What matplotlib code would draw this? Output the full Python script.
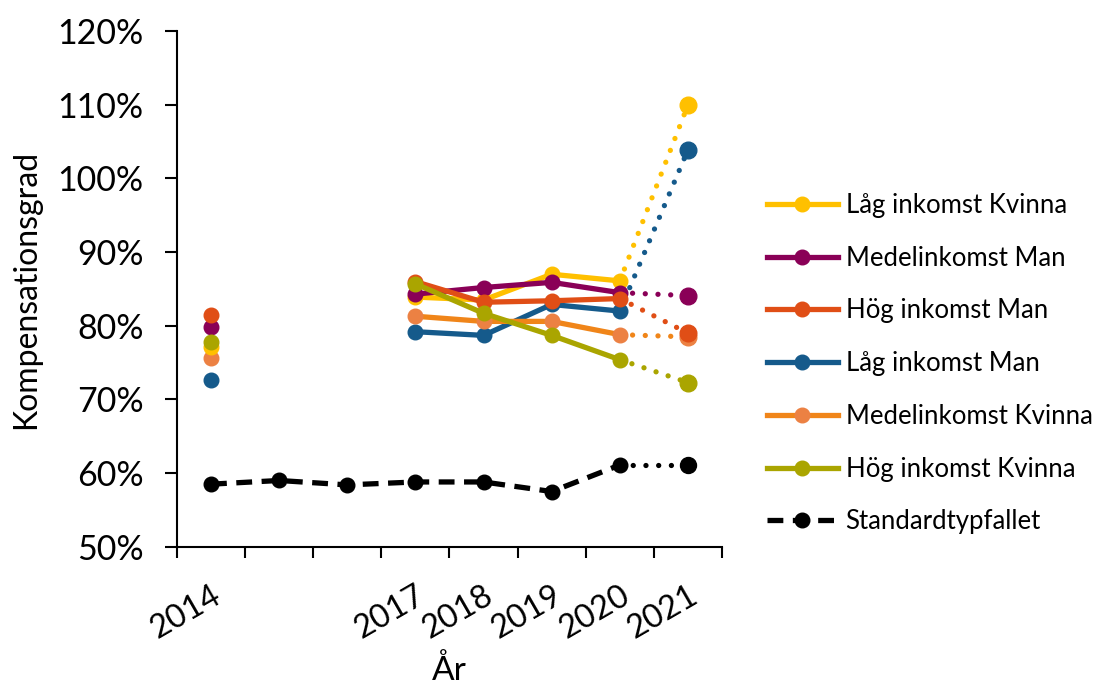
import numpy as np
import matplotlib
matplotlib.use("Agg")
import matplotlib.pyplot as plt
from matplotlib.lines import Line2D
from matplotlib.ticker import FixedLocator, FuncFormatter

plt.rcParams['font.family'] = ['Lato', 'DejaVu Sans']

years = [2014, 2015, 2016, 2017, 2018, 2019, 2020, 2021]
year_labels = ['2014', '', '', '2017', '2018', '2019', '2020', '2021']
nan = np.nan

series_names = ['Låg inkomst Kvinna', 'Medelinkomst Man', 'Hög inkomst Man',
                'Låg inkomst Man', 'Medelinkomst Kvinna', 'Hög inkomst Kvinna']
lag_kvinna = [77.1, nan, nan, 83.9, 83.5, 87.0, 86.1, 110.0]
medel_man = [79.8, nan, nan, 84.3, 85.2, 85.9, 84.5, 84.1]
hog_man = [81.5, nan, nan, 86.0, 83.2, 83.4, 83.7, 79.0]
lag_man = [72.7, nan, nan, 79.2, 78.7, 82.9, 82.0, 103.9]
medel_kvinna = [75.6, nan, nan, 81.3, 80.6, 80.6, 78.8, 78.5]
hog_kvinna = [77.8, nan, nan, 85.7, 81.7, 78.7, 75.4, 72.3]
standard = [58.5, 59.0, 58.4, 58.8, 58.8, 57.5, 61.1, 61.1]

values = [lag_kvinna, medel_man, hog_man, lag_man, medel_kvinna, hog_kvinna]
line_colors = ['#FFC000', '#8A0057', '#E04E16', '#155A8B', '#F08519', '#AAA500']
marker_colors = ['#FFC000', '#8A0057', '#E04E16', '#155A8B', '#EC8143', '#AAA500']
# draw order: back to front
order = [3, 4, 0, 1, 2, 5]

fig = plt.figure(figsize=(10.99, 6.93), dpi=100)
ax = fig.add_axes([0.161, 0.211, 0.496, 0.744])

x = np.arange(len(years))
lw = 3.8
ms = 10.5
dot = (0, (0.01, 2.4))

for i in order:
    v = np.array(values[i], dtype=float)
    solid = v.copy()
    solid[-1] = nan
    # dotted final segment
    ax.plot(x[-2:], v[-2:], linestyle=dot, dash_capstyle='round', color=line_colors[i],
            lw=lw, zorder=2)
    ax.plot(x, solid, '-', color=line_colors[i], lw=lw, solid_capstyle='round', zorder=3,
            marker='o', ms=ms, mfc=marker_colors[i], mec=marker_colors[i])
    ax.plot(x[-1:], v[-1:], 'o', color=marker_colors[i], ms=ms + 1.5, zorder=3)

s = np.array(standard, dtype=float)
s_main = s.copy()
s_main[-1] = nan
ax.plot(x[-2:], s[-2:], linestyle=dot, dash_capstyle='round', color='black', lw=lw, zorder=2)
ax.plot(x, s_main, color='black', lw=lw, linestyle=(0, (3.0, 1.8)), zorder=3,
        marker='o', ms=ms, mfc='black', mec='black')
ax.plot(x[-1:], s[-1:], 'o', color='black', ms=ms + 1, zorder=3)

ax.set_xlim(-0.5, len(years) - 0.5)
ax.set_ylim(50, 120)
ax.set_yticks(np.arange(50, 121, 10))
ax.yaxis.set_major_formatter(FuncFormatter(lambda v, p: f'{v:.0f}%'))

ax.xaxis.set_major_locator(FixedLocator(np.arange(-0.5, len(years), 1.0)))
ax.xaxis.set_minor_locator(FixedLocator(x))
ax.set_xticklabels([], minor=False)
ax.set_xticklabels(year_labels, minor=True, rotation=30, ha='right', rotation_mode='anchor')
ax.tick_params(axis='x', which='major', length=8, width=1.5, direction='out')
ax.tick_params(axis='x', which='minor', length=0, labelsize=23.5, pad=24)
ax.tick_params(axis='y', length=9, width=1.5, direction='out', labelsize=24.5, pad=15)

for sp in ['top', 'right']:
    ax.spines[sp].set_visible(False)
for sp in ['left', 'bottom']:
    ax.spines[sp].set_linewidth(1.5)

ax.set_ylabel('Kompensationsgrad', fontsize=23, labelpad=12)
ax.set_xlabel('År', fontsize=24, labelpad=8)

handles = []
for i in range(len(series_names)):
    handles.append(Line2D([], [], color=line_colors[i], lw=lw, marker='o', ms=ms,
                          mfc=marker_colors[i], mec=marker_colors[i]))
handles.append(Line2D([], [], color='black', lw=lw, linestyle=(0, (3.0, 1.8)), marker='o', ms=ms))
labels = series_names + ['Standardtypfallet']
fig.legend(handles, labels, loc='upper left', bbox_to_anchor=(0.677, 0.755), frameon=False,
           fontsize=18.5, handlelength=2.75, handletextpad=0.3, labelspacing=1.08)

fig.savefig('out.png', dpi=100)
